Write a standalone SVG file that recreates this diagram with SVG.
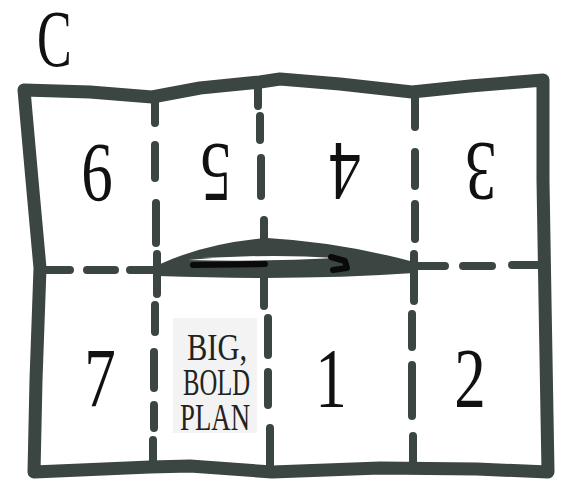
<svg xmlns="http://www.w3.org/2000/svg" width="567" height="482" viewBox="0 0 567 482">
<style>
.b{fill:none;stroke:#3b4542;stroke-width:13;stroke-linecap:round;stroke-linejoin:round}
.d{fill:none;stroke:#3b4542;stroke-width:8;stroke-linecap:round}
.n{font-family:"Liberation Serif","DejaVu Serif",serif;font-size:84px;fill:#111}
.t{font-family:"Liberation Serif","DejaVu Serif",serif;font-size:37px;fill:#222}
.k{fill:none;stroke:#0a0a0a;stroke-width:6;stroke-linecap:round;stroke-linejoin:round}
</style>
<rect width="567" height="482" fill="#fff"/>
<text class="n" transform="translate(37,66) scale(0.62,0.95)">C</text>
<g id="border">
<path class="b" d="M24,90 L90,92 L152,97 L200,88 L260,82 L280,79 L340,84 L412,92 L470,86 L543,80 L543,180 L545,300 L548,472 L477,469 L380,468 L272,472 L190,466 L150,467 L34,472 L36,380 L40,268 L32,180 Z"/>
</g>
<g id="folds">
<path class="d" d="M155,97 V123 M155,145 V178 M156,203 V243 M157,254 V294 M155,305 V332 M154,352 V388 M154,405 V428 M153,440 V468"/>
<path class="d" d="M258,84 V106 M260,116 V140 M261,158 V196 M264,220 V306 M268,318 V355 M268,372 V405 M270,428 V468"/>
<path class="d" d="M415,98 V127 M415,152 V186 M415,204 V239 M414,254 V301 M412,314 V347 M412,365 V416 M413,436 V468"/>
<path class="d" d="M40,270 H70 M87,270 H115 M130,270 H168 M408,266 H445 M463,266 H492 M512,265 H538"/>
</g>
<g id="lens">
<path fill="#3b4542" d="M158,265 Q205,243 267,238 Q340,242 414,262 L414,273 Q300,281 158,276 Z"/>
<path fill="#fff" d="M188,260 Q262,253 336,258 Q262,262 188,260 Z"/>
<path class="k" d="M193,265 L265,264"/>
<path class="k" d="M331,257 L345,261 L347,268 L333,270"/>
</g>
<g id="panels">
<text class="n" text-anchor="middle" transform="translate(97,201) scale(0.75,1)">6</text>
<text class="n" text-anchor="middle" transform="translate(216,144) rotate(180) scale(0.75,1)">5</text>
<text class="n" text-anchor="middle" transform="translate(345,143) rotate(180) scale(0.75,1)">4</text>
<text class="n" text-anchor="middle" transform="translate(481,143) rotate(180) scale(0.75,1)">3</text>
<text class="n" text-anchor="middle" transform="translate(100,407) scale(0.75,1)">7</text>
<text class="n" text-anchor="middle" transform="translate(331,407) scale(0.75,1)">1</text>
<text class="n" text-anchor="middle" transform="translate(470,407) scale(0.75,1)">2</text>
</g>
<g id="cover">
<rect x="173" y="318" width="84" height="115" fill="#f3f3f3"/>
<text class="t" x="187" y="360" textLength="60" lengthAdjust="spacingAndGlyphs">BIG,</text>
<text class="t" x="183" y="395" textLength="67" lengthAdjust="spacingAndGlyphs">BOLD</text>
<text class="t" x="180" y="430" textLength="70" lengthAdjust="spacingAndGlyphs">PLAN</text>
</g>
</svg>
